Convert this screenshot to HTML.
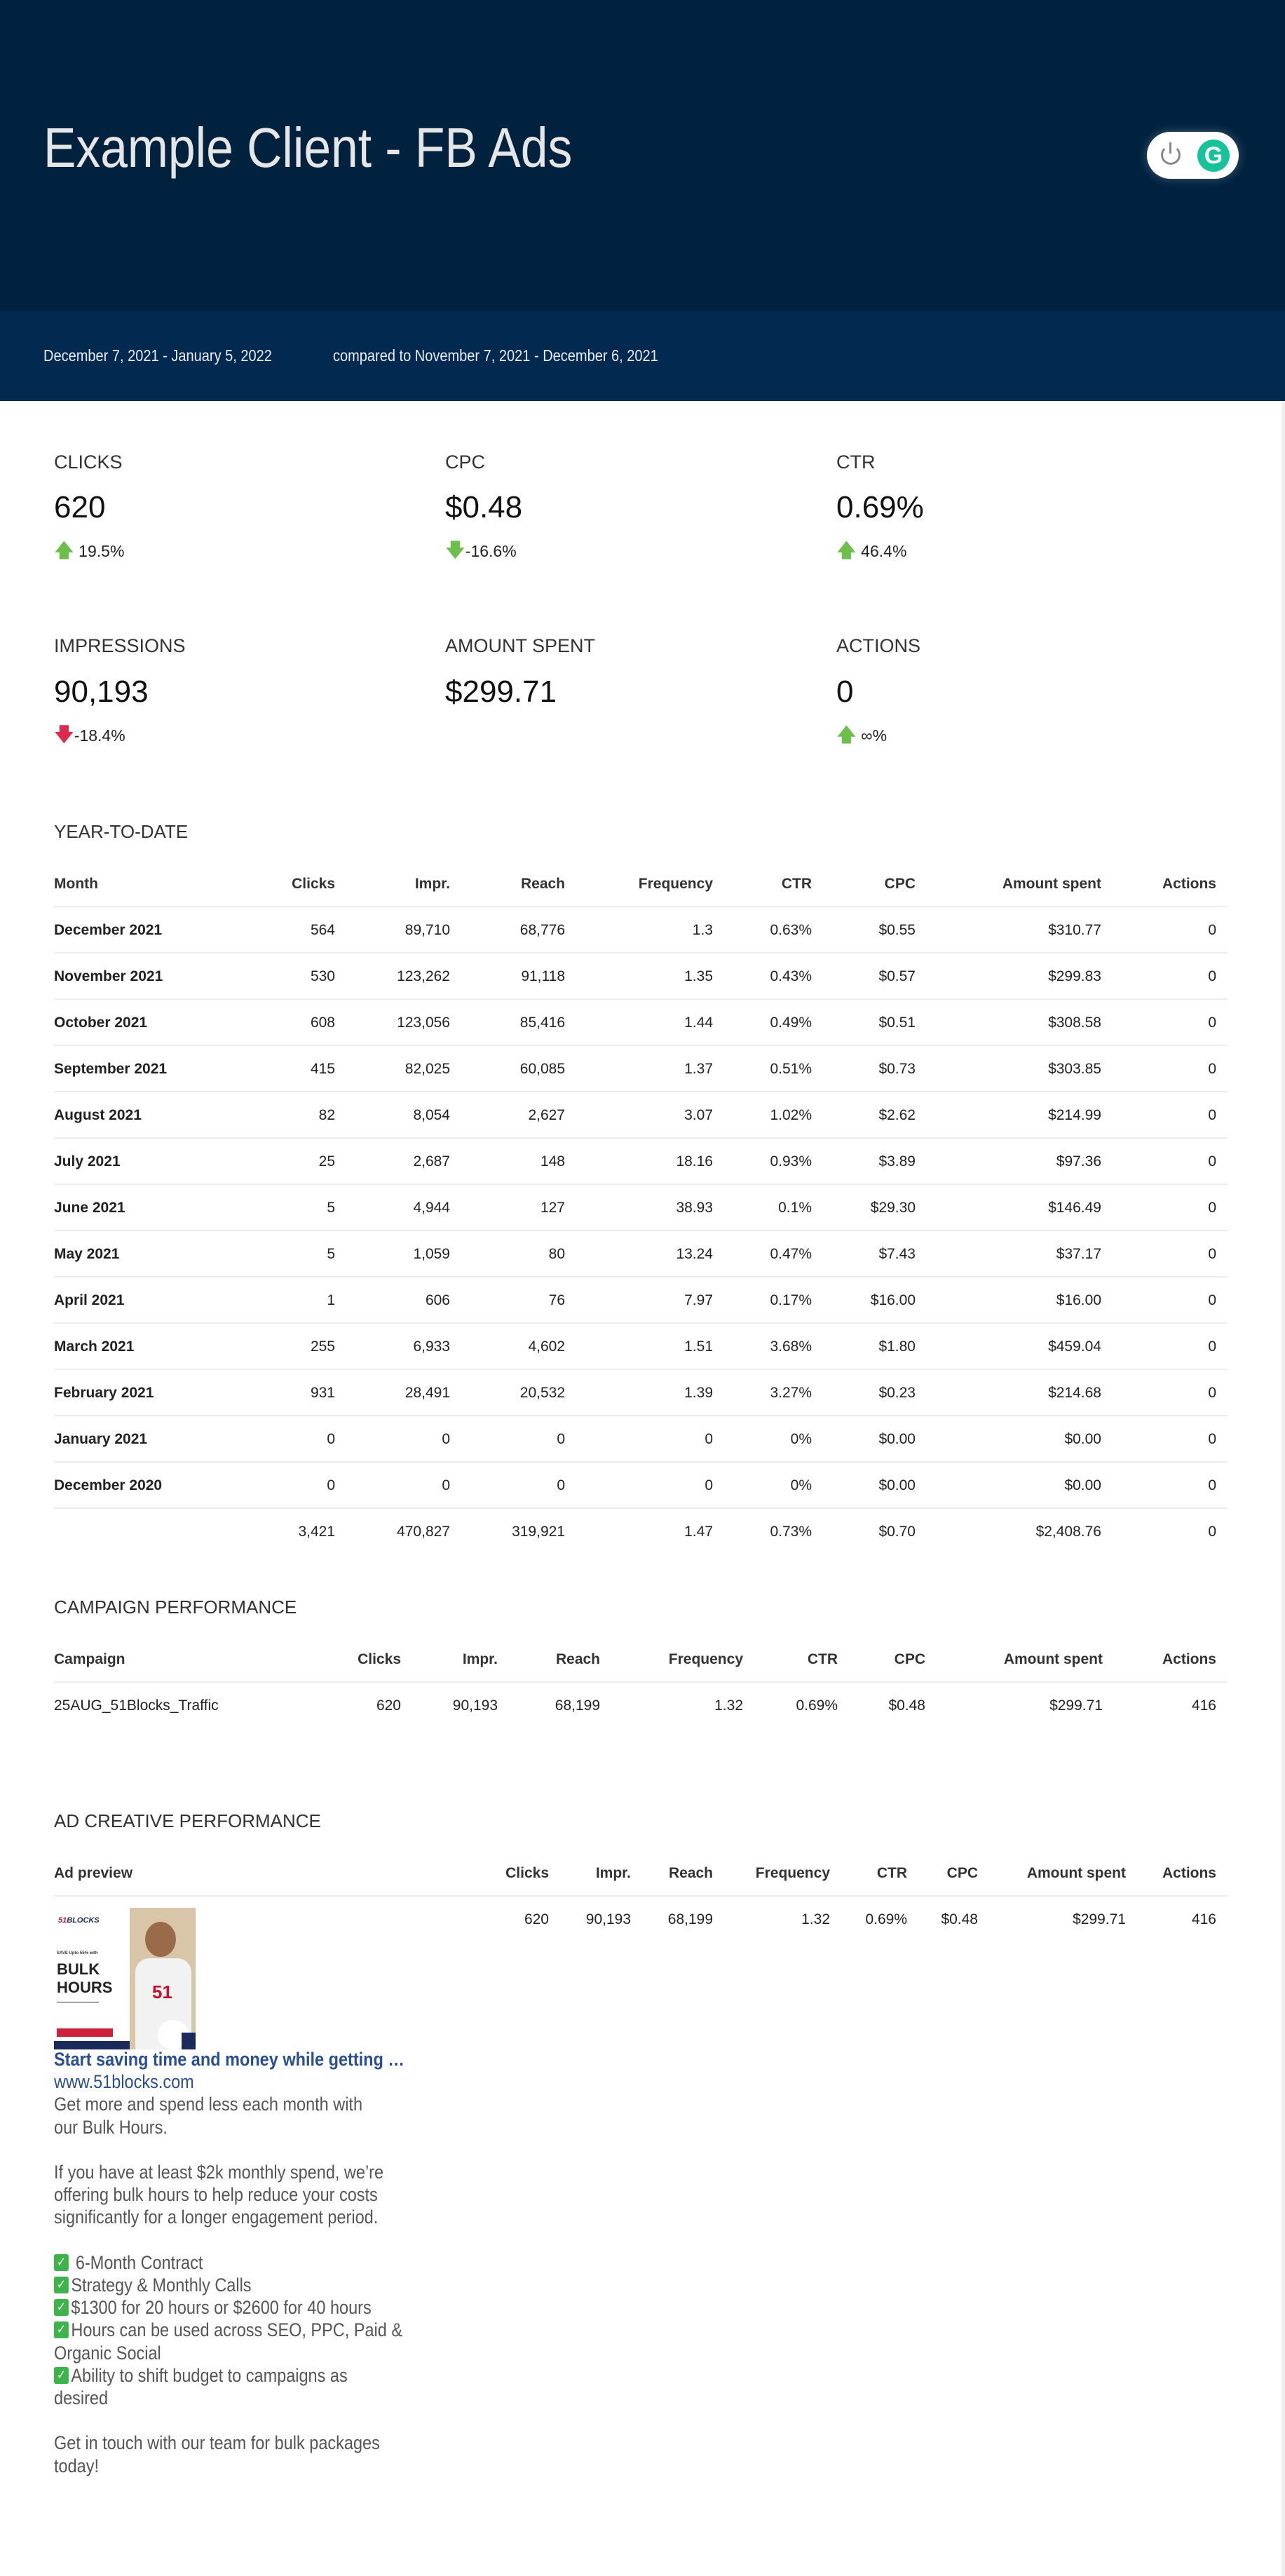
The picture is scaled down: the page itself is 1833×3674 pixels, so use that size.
<!DOCTYPE html>
<html><head><meta charset="utf-8"><style>
*{margin:0;padding:0;box-sizing:border-box}
body{width:1833px;height:3674px;position:relative;background:#fff;font-family:"Liberation Sans",sans-serif;color:#222;overflow:hidden}
.a{position:absolute;white-space:nowrap}
.sx{transform:scaleX(0.87);transform-origin:0 0}
.hdr{left:0;top:0;width:1833px;height:443px;background:#00223f}
.band{left:0;top:443px;width:1833px;height:129px;background:#022a50}
.lbl{font-size:27px;color:#333;line-height:34px}
.val{font-size:44px;color:#111;line-height:54px}
.chg{font-size:23px;color:#222;line-height:28px}
.sec{font-size:26px;color:#333;line-height:34px}
.r{position:absolute;left:77px;width:1674px;height:66px;line-height:66px;font-size:21px;color:#222;border-bottom:2px solid #ececec}
.r.nb{border-bottom:none}
.r span{position:absolute;top:0}
.r.h{font-weight:bold;color:#333}
.m{left:0;font-weight:bold}
.ck{display:inline-block;width:24px;height:24px;background:#3cb44a;color:#fff;border-radius:3px;font-size:18px;line-height:24px;text-align:center;vertical-align:top;position:relative;top:4px;margin-right:4px;font-family:"DejaVu Sans",sans-serif}
</style></head><body>
<div class="a hdr"></div>
<div class="a band"></div>
<div class="a" style="left:1828px;top:572px;width:5px;height:3102px;background:#eee"></div>
<div class="a sx" style="left:62px;top:163px;font-size:80px;line-height:96px;color:#e6e6e6">Example Client - FB Ads</div>
<div class="a" style="left:1636px;top:188px;width:131px;height:67px;background:#fff;border-radius:34px;box-shadow:0 0 14px rgba(255,255,255,.25)"></div>
<div class="a" style="left:1656px;top:207px;width:28px;height:28px;border:3px solid #888;border-top-color:transparent;border-radius:50%"></div>
<div class="a" style="left:1668px;top:203px;width:3px;height:16px;background:#888"></div>
<div class="a" style="left:1708px;top:199px;width:46px;height:46px;background:#15c39a;border-radius:50%;color:#fff;font:bold 34px/46px 'Liberation Sans',sans-serif;text-align:center">G</div>
<div class="a sx" style="left:62px;top:492px;font-size:23px;line-height:30px;color:#e8ecf2">December 7, 2021 - January 5, 2022</div>
<div class="a sx" style="left:475px;top:492px;font-size:23px;line-height:30px;color:#e8ecf2">compared to November 7, 2021 - December 6, 2021</div>

<div class="a lbl" style="left:77px;top:642px">CLICKS</div>
<div class="a lbl" style="left:635px;top:642px">CPC</div>
<div class="a lbl" style="left:1193px;top:642px">CTR</div>
<div class="a val" style="left:77px;top:697px">620</div>
<div class="a val" style="left:635px;top:697px">$0.48</div>
<div class="a val" style="left:1193px;top:697px">0.69%</div>
<div class="a chg" style="left:77px;top:771px"><span style="color:#6cc04a;font-size:28px;font-family:'DejaVu Sans'">🡅</span> 19.5%</div>
<div class="a chg" style="left:635px;top:771px"><span style="color:#6cc04a;font-size:28px;font-family:'DejaVu Sans'">🡇</span>-16.6%</div>
<div class="a chg" style="left:1193px;top:771px"><span style="color:#6cc04a;font-size:28px;font-family:'DejaVu Sans'">🡅</span> 46.4%</div>

<div class="a lbl" style="left:77px;top:904px">IMPRESSIONS</div>
<div class="a lbl" style="left:635px;top:904px">AMOUNT SPENT</div>
<div class="a lbl" style="left:1193px;top:904px">ACTIONS</div>
<div class="a val" style="left:77px;top:960px">90,193</div>
<div class="a val" style="left:635px;top:960px">$299.71</div>
<div class="a val" style="left:1193px;top:960px">0</div>
<div class="a chg" style="left:77px;top:1034px"><span style="color:#e0284a;font-size:28px;font-family:'DejaVu Sans'">🡇</span>-18.4%</div>
<div class="a chg" style="left:1193px;top:1034px"><span style="color:#6cc04a;font-size:28px;font-family:'DejaVu Sans'">🡅</span> ∞%</div>

<div class="a sec" style="left:77px;top:1169px">YEAR-TO-DATE</div>
<div class="r h" style="top:1228px"><span style="left:0">Month</span><span style="right:1273px">Clicks</span><span style="right:1109px">Impr.</span><span style="right:945px">Reach</span><span style="right:734px">Frequency</span><span style="right:593px">CTR</span><span style="right:445px">CPC</span><span style="right:180px">Amount spent</span><span style="right:16px">Actions</span></div>
<div class="r" style="top:1294px"><span class="m">December 2021</span><span style="right:1273px">564</span><span style="right:1109px">89,710</span><span style="right:945px">68,776</span><span style="right:734px">1.3</span><span style="right:593px">0.63%</span><span style="right:445px">$0.55</span><span style="right:180px">$310.77</span><span style="right:16px">0</span></div>
<div class="r" style="top:1360px"><span class="m">November 2021</span><span style="right:1273px">530</span><span style="right:1109px">123,262</span><span style="right:945px">91,118</span><span style="right:734px">1.35</span><span style="right:593px">0.43%</span><span style="right:445px">$0.57</span><span style="right:180px">$299.83</span><span style="right:16px">0</span></div>
<div class="r" style="top:1426px"><span class="m">October 2021</span><span style="right:1273px">608</span><span style="right:1109px">123,056</span><span style="right:945px">85,416</span><span style="right:734px">1.44</span><span style="right:593px">0.49%</span><span style="right:445px">$0.51</span><span style="right:180px">$308.58</span><span style="right:16px">0</span></div>
<div class="r" style="top:1492px"><span class="m">September 2021</span><span style="right:1273px">415</span><span style="right:1109px">82,025</span><span style="right:945px">60,085</span><span style="right:734px">1.37</span><span style="right:593px">0.51%</span><span style="right:445px">$0.73</span><span style="right:180px">$303.85</span><span style="right:16px">0</span></div>
<div class="r" style="top:1558px"><span class="m">August 2021</span><span style="right:1273px">82</span><span style="right:1109px">8,054</span><span style="right:945px">2,627</span><span style="right:734px">3.07</span><span style="right:593px">1.02%</span><span style="right:445px">$2.62</span><span style="right:180px">$214.99</span><span style="right:16px">0</span></div>
<div class="r" style="top:1624px"><span class="m">July 2021</span><span style="right:1273px">25</span><span style="right:1109px">2,687</span><span style="right:945px">148</span><span style="right:734px">18.16</span><span style="right:593px">0.93%</span><span style="right:445px">$3.89</span><span style="right:180px">$97.36</span><span style="right:16px">0</span></div>
<div class="r" style="top:1690px"><span class="m">June 2021</span><span style="right:1273px">5</span><span style="right:1109px">4,944</span><span style="right:945px">127</span><span style="right:734px">38.93</span><span style="right:593px">0.1%</span><span style="right:445px">$29.30</span><span style="right:180px">$146.49</span><span style="right:16px">0</span></div>
<div class="r" style="top:1756px"><span class="m">May 2021</span><span style="right:1273px">5</span><span style="right:1109px">1,059</span><span style="right:945px">80</span><span style="right:734px">13.24</span><span style="right:593px">0.47%</span><span style="right:445px">$7.43</span><span style="right:180px">$37.17</span><span style="right:16px">0</span></div>
<div class="r" style="top:1822px"><span class="m">April 2021</span><span style="right:1273px">1</span><span style="right:1109px">606</span><span style="right:945px">76</span><span style="right:734px">7.97</span><span style="right:593px">0.17%</span><span style="right:445px">$16.00</span><span style="right:180px">$16.00</span><span style="right:16px">0</span></div>
<div class="r" style="top:1888px"><span class="m">March 2021</span><span style="right:1273px">255</span><span style="right:1109px">6,933</span><span style="right:945px">4,602</span><span style="right:734px">1.51</span><span style="right:593px">3.68%</span><span style="right:445px">$1.80</span><span style="right:180px">$459.04</span><span style="right:16px">0</span></div>
<div class="r" style="top:1954px"><span class="m">February 2021</span><span style="right:1273px">931</span><span style="right:1109px">28,491</span><span style="right:945px">20,532</span><span style="right:734px">1.39</span><span style="right:593px">3.27%</span><span style="right:445px">$0.23</span><span style="right:180px">$214.68</span><span style="right:16px">0</span></div>
<div class="r" style="top:2020px"><span class="m">January 2021</span><span style="right:1273px">0</span><span style="right:1109px">0</span><span style="right:945px">0</span><span style="right:734px">0</span><span style="right:593px">0%</span><span style="right:445px">$0.00</span><span style="right:180px">$0.00</span><span style="right:16px">0</span></div>
<div class="r" style="top:2086px"><span class="m">December 2020</span><span style="right:1273px">0</span><span style="right:1109px">0</span><span style="right:945px">0</span><span style="right:734px">0</span><span style="right:593px">0%</span><span style="right:445px">$0.00</span><span style="right:180px">$0.00</span><span style="right:16px">0</span></div>
<div class="r nb" style="top:2152px"><span style="right:1273px">3,421</span><span style="right:1109px">470,827</span><span style="right:945px">319,921</span><span style="right:734px">1.47</span><span style="right:593px">0.73%</span><span style="right:445px">$0.70</span><span style="right:180px">$2,408.76</span><span style="right:16px">0</span></div>

<div class="a sec" style="left:77px;top:2275px">CAMPAIGN PERFORMANCE</div>
<div class="r h" style="top:2334px"><span style="left:0">Campaign</span><span style="right:1179px">Clicks</span><span style="right:1041px">Impr.</span><span style="right:895px">Reach</span><span style="right:691px">Frequency</span><span style="right:556px">CTR</span><span style="right:431px">CPC</span><span style="right:178px">Amount spent</span><span style="right:16px">Actions</span></div>
<div class="r nb" style="top:2400px"><span style="left:0">25AUG_51Blocks_Traffic</span><span style="right:1179px">620</span><span style="right:1041px">90,193</span><span style="right:895px">68,199</span><span style="right:691px">1.32</span><span style="right:556px">0.69%</span><span style="right:431px">$0.48</span><span style="right:178px">$299.71</span><span style="right:16px">416</span></div>

<div class="a sec" style="left:77px;top:2580px">AD CREATIVE PERFORMANCE</div>
<div class="r h" style="top:2639px"><span style="left:0">Ad preview</span><span style="right:968px">Clicks</span><span style="right:851px">Impr.</span><span style="right:734px">Reach</span><span style="right:567px">Frequency</span><span style="right:457px">CTR</span><span style="right:356px">CPC</span><span style="right:145px">Amount spent</span><span style="right:16px">Actions</span></div>
<div class="r nb" style="top:2705px"><span style="right:968px">620</span><span style="right:851px">90,193</span><span style="right:734px">68,199</span><span style="right:567px">1.32</span><span style="right:457px">0.69%</span><span style="right:356px">$0.48</span><span style="right:145px">$299.71</span><span style="right:16px">416</span></div>

<div class="a" style="left:77px;top:2721px;width:202px;height:202px;background:#fff;overflow:hidden">
  <div class="a" style="left:6px;top:12px;font:bold italic 11px 'Liberation Sans';color:#c8102e">51<span style="color:#1a2a5a">BLOCKS</span></div>
  <div class="a" style="left:4px;top:62px;font:bold 6px 'Liberation Sans';color:#333">SAVE Upto 55% with</div>
  <div class="a" style="left:4px;top:75px;font:bold 22px/26px 'Liberation Sans';color:#222">BULK<br>HOURS</div>
  <div class="a" style="left:4px;top:134px;width:60px;height:1px;background:#333"></div>
  <div class="a" style="left:4px;top:172px;width:80px;height:12px;background:#d0213c"></div>
  <div class="a" style="left:0;top:190px;width:108px;height:12px;background:#1a2a5a"></div>
  <div class="a" style="left:108px;top:0;width:94px;height:202px;background:#d9c6a8"></div>
  <div class="a" style="left:130px;top:20px;width:44px;height:50px;background:#9a6b4a;border-radius:50%"></div>
  <div class="a" style="left:116px;top:72px;width:80px;height:130px;background:#f2f2f2;border-radius:20px 20px 0 0"></div>
  <div class="a" style="left:140px;top:105px;font:bold 26px 'Liberation Sans';color:#c8102e">51</div>
  <div class="a" style="left:148px;top:160px;width:44px;height:42px;background:#fff;border-radius:50%"></div>
  <div class="a" style="left:182px;top:178px;width:20px;height:24px;background:#1a2a5a"></div>
</div>

<div class="a sx" style="left:77px;top:2921px;font-size:27px;line-height:32.2px;color:#555">
<div style="color:#2a4e96;font-weight:bold">Start saving time and money while getting …</div>
<div style="color:#2a4e96">www.51blocks.com</div>
<div>Get more and spend less each month with</div><div>our Bulk Hours.</div><div>&nbsp;</div><div>If you have at least $2k monthly spend, we’re</div><div>offering bulk hours to help reduce your costs</div><div>significantly for a longer engagement period.</div><div>&nbsp;</div><div><span class="ck">✓</span> 6-Month Contract</div><div><span class="ck">✓</span>Strategy &amp; Monthly Calls</div><div><span class="ck">✓</span>$1300 for 20 hours or $2600 for 40 hours</div><div><span class="ck">✓</span>Hours can be used across SEO, PPC, Paid &amp;</div><div>Organic Social</div><div><span class="ck">✓</span>Ability to shift budget to campaigns as</div><div>desired</div><div>&nbsp;</div><div>Get in touch with our team for bulk packages</div><div>today!</div>
</div>
</body></html>
